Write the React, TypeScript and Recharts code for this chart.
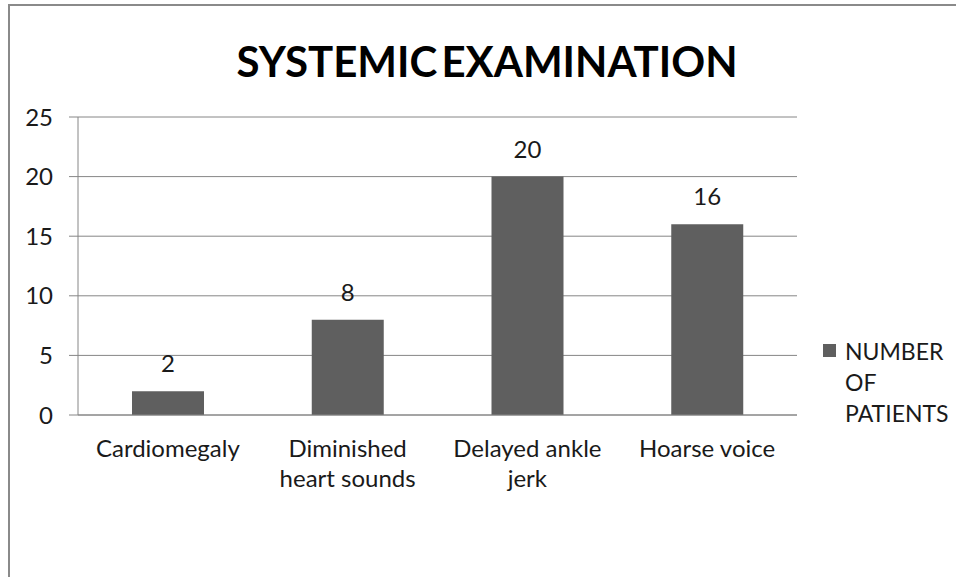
import React from 'react';
import { BarChart, Bar, XAxis, YAxis, CartesianGrid, LabelList } from 'recharts';

const categories = ['Cardiomegaly', 'Diminished heart sounds', 'Delayed ankle jerk', 'Hoarse voice'];
const patients = [2, 8, 20, 16];
const yTicks = [0, 5, 10, 15, 20, 25];
const seriesName = 'NUMBER OF PATIENTS';
const title = 'SYSTEMIC EXAMINATION';

const FONT = 'Lato, "Open Sans", sans-serif';
const GREY = '#868686';
const BAR = '#5f5f5f';
const INK = '#1a1a1a';

const data = categories.map((name, i) => ({ name, value: patients[i] }));

let ctx: CanvasRenderingContext2D | null = null;
function wrap(label: string, maxWidth: number, font: string) {
  if (!ctx) ctx = document.createElement('canvas').getContext('2d');
  if (ctx) ctx.font = font;
  const lines: string[] = [];
  let cur = '';
  label.split(' ').forEach((w) => {
    const test = cur ? cur + ' ' + w : w;
    const width = ctx ? ctx.measureText(test).width : test.length * 11;
    if (cur && width > maxWidth) {
      lines.push(cur);
      cur = w;
    } else {
      cur = test;
    }
  });
  if (cur) lines.push(cur);
  return lines;
}

// category labels wrap like the Excel original
const CategoryTick = (props: any) => {
  const { x, y, payload } = props;
  const lines = wrap(String(payload.value), 165, '24px Lato');
  return (
    <text x={x} y={y + 34} textAnchor="middle" fontSize={24} fontFamily={FONT} fill={INK}>
      {lines.map((l, i) => (
        <tspan key={i} x={x} dy={i === 0 ? 0 : 30}>
          {l}
        </tspan>
      ))}
    </text>
  );
};

const LegendBox = () => {
  const words = seriesName.split(' ');
  const lines = [words[0], words[1], words.slice(2).join(' ')];
  return (
    <div
      style={{
        position: 'absolute',
        left: 823,
        top: 336,
        width: 133,
        fontFamily: FONT,
        fontSize: 23,
        color: INK,
        lineHeight: '31px',
      }}
    >
      <span style={{ position: 'absolute', left: 0, top: 8, width: 13, height: 13, background: BAR }} />
      <div style={{ marginLeft: 22 }}>
        {lines.map((l) => (
          <div key={l}>{l}</div>
        ))}
      </div>
    </div>
  );
};

export default function App() {
  return (
    <div style={{ position: 'absolute', left: 0, top: 0, width: 956, height: 577, overflow: 'hidden', background: '#fff' }}>
      <div
        style={{
          position: 'absolute',
          left: 8,
          top: 4,
          width: 1000,
          height: 1000,
          border: '2px solid #8a8a8a',
          boxSizing: 'border-box',
        }}
      />
      <div
        style={{
          position: 'absolute',
          left: 0,
          top: 36,
          width: 974,
          textAlign: 'center',
          fontFamily: FONT,
          fontWeight: 700,
          fontSize: 42,
          lineHeight: '50px',
          color: '#000',
          wordSpacing: -6,
        }}
      >
        {title}
      </div>
      <div style={{ position: 'absolute', left: 0, top: 0 }}>
        <BarChart width={956} height={577} data={data} margin={{ top: 117, right: 159, bottom: 132, left: 18 }}>
          <CartesianGrid vertical={false} stroke={GREY} strokeWidth={1} />
          <XAxis
            dataKey="name"
            height={30}
            tickLine={false}
            axisLine={{ stroke: GREY }}
            tick={<CategoryTick />}
            interval={0}
          />
          <YAxis
            width={60}
            domain={[0, 25]}
            ticks={yTicks}
            tickSize={9}
            tickMargin={16}
            axisLine={{ stroke: GREY }}
            tickLine={{ stroke: GREY }}
            tick={{ fontSize: 24, fontFamily: FONT, fill: INK }}
          />
          <Bar dataKey="value" name={seriesName} fill={BAR} barSize={72} isAnimationActive={false}>
            <LabelList dataKey="value" position="top" offset={19} fontSize={24} fontFamily={FONT} fill={INK} />
          </Bar>
        </BarChart>
      </div>
      <LegendBox />
    </div>
  );
}
